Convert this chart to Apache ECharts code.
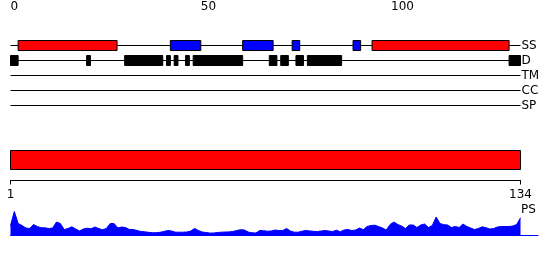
<!DOCTYPE html>
<html><head><meta charset="utf-8">
<script src="https://cdn.jsdelivr.net/npm/echarts@6/dist/echarts.min.js"></script>
<style>html,body{margin:0;padding:0;background:#fff}#c{width:550px;height:260px}</style>
</head><body><div id="c"></div>
<script>
const seqLength = 134;
const trackNames = ['SS', 'D', 'TM', 'CC', 'SP'];
const topTicks = [0, 10, 20, 30, 40, 50, 60, 70, 80, 90, 100, 110, 120, 130];
const topLabels = [0, 50, 100];
const bottomTicks = [1, 134];
const ssHelix = [[2, 28], [95, 131]];
const ssStrand = [[42, 50], [61, 69], [74, 76], [90, 92]];
const disorder = [[0, 2], [20, 21], [30, 40], [41, 42], [43, 44], [46, 47], [48, 61], [68, 70], [71, 73], [75, 77], [78, 87], [131, 134]];
const domainRange = [1, 134];
const psScores = [
  10, 24, 12, 10, 7.5, 7, 11, 9, 7.7, 7.7,
  7, 7.5, 13.5, 12, 6, 7, 8.7, 6.5, 4.5, 6.5,
  7.3, 6.7, 8.5, 7, 5.8, 7, 12, 12, 7.5, 8.5,
  8, 6, 6, 5, 4, 3.7, 3.2, 2.8, 2.8, 3.2,
  4, 5, 4.5, 3.3, 3.3, 3.3, 3.5, 4.5, 7, 5,
  3.5, 3, 2.4, 2.5, 3, 3.3, 3.5, 3.6, 4, 5,
  5.8, 5.5, 3.5, 2.7, 2.5, 5, 4.8, 4.3, 4.5, 5.5,
  5, 5, 7, 4.5, 3.3, 3.3, 4.3, 5, 4.6, 4.2,
  4, 4.5, 5, 4.5, 4, 5.3, 3.8, 5.5, 6, 5,
  5.5, 7.5, 5.8, 9, 10, 10.3, 9, 7.5, 5.5, 11,
  13.5, 11, 9.5, 7, 10.5, 10.5, 8, 10.5, 11.5, 8,
  10, 18.5, 12, 10.8, 10.5, 8, 9, 8, 11.5, 9,
  7.5, 6, 7, 8.7, 7.8, 6.5, 7, 8.5, 9, 9,
  9, 9.5, 11, 17.7
];

const FONT = 'DejaVu Sans';
const LEFT = 10.5, WIDTH = 510;
const pxPerRes = WIDTH / (domainRange[1] - domainRange[0]);
const PS_WIDTH = 527.5;
const psMax = domainRange[0] + PS_WIDTH / pxPerRes;

function boxRender(fill, h) {
  return function (params, api) {
    const t = api.value(2);
    const s = api.coord([api.value(0), t]);
    const e = api.coord([api.value(1), t]);
    return {
      type: 'rect',
      shape: { x: s[0], y: s[1] - h / 2, width: e[0] - s[0], height: h },
      style: { fill: fill, stroke: '#000', lineWidth: 1 }
    };
  };
}
function lineRender(params, api) {
  const t = api.value(2);
  const s = api.coord([api.value(0), t]);
  const e = api.coord([api.value(1), t]);
  return { type: 'line', shape: { x1: s[0], y1: s[1], x2: e[0], y2: e[1] }, style: { stroke: '#000', lineWidth: 1 } };
}

const chart = echarts.init(document.getElementById('c'), null, { renderer: 'canvas' });
const trackIdx = n => trackNames.indexOf(n);
chart.setOption({
  animation: false,
  backgroundColor: '#fff',
  textStyle: { fontFamily: FONT },
  grid: [
    { left: LEFT, width: WIDTH, top: 38, height: 75 },
    { left: LEFT, width: WIDTH, top: 150.5, height: 19 },
    { left: LEFT, width: PS_WIDTH, top: 210.5, height: 25 }
  ],
  xAxis: [
    {
      gridIndex: 0, type: 'value', min: 0, max: seqLength, position: 'top', offset: 22.5,
      axisLine: { onZero: false, lineStyle: { color: '#000', width: 1 } },
      axisTick: { customValues: topTicks, length: 5, lineStyle: { color: '#000' } },
      axisLabel: { customValues: topLabels, align: 'left', margin: 3, color: '#000', fontSize: 12, fontFamily: FONT },
      splitLine: { show: false }
    },
    {
      gridIndex: 1, type: 'value', min: domainRange[0], max: domainRange[1], position: 'bottom', offset: 11,
      axisLine: { onZero: false, lineStyle: { color: '#000', width: 1 } },
      axisTick: { customValues: bottomTicks, length: 4, lineStyle: { color: '#000' } },
      axisLabel: { customValues: bottomTicks, margin: 8, color: '#000', fontSize: 12, fontFamily: FONT },
      splitLine: { show: false }
    },
    {
      gridIndex: 2, type: 'value', min: domainRange[0], max: psMax, position: 'bottom',
      axisLine: { onZero: false, lineStyle: { color: '#0000ff', width: 1 } },
      axisTick: { show: false }, axisLabel: { show: false }, splitLine: { show: false }
    }
  ],
  yAxis: [
    {
      gridIndex: 0, type: 'category', data: trackNames, inverse: true, position: 'right',
      axisLine: { show: false }, axisTick: { show: false }, splitLine: { show: false },
      axisLabel: { interval: 0, margin: 1, color: '#000', fontSize: 12, fontFamily: FONT }
    },
    { gridIndex: 1, type: 'value', min: 0, max: 1, show: false },
    { gridIndex: 2, type: 'value', min: 0, max: 25, show: false }
  ],
  graphic: [
    { type: 'text', left: 521, top: 204, style: { text: 'PS', fill: '#000', font: '12px "DejaVu Sans"' } }
  ],
  series: [
    {
      type: 'custom', xAxisIndex: 0, yAxisIndex: 0, z: 1,
      data: trackNames.map((n, i) => [0, seqLength, i]),
      encode: { x: [0, 1], y: 2 }, renderItem: lineRender
    },
    {
      type: 'custom', xAxisIndex: 0, yAxisIndex: 0, z: 2,
      data: ssHelix.map(r => [r[0], r[1], trackIdx('SS')]),
      encode: { x: [0, 1], y: 2 }, renderItem: boxRender('#ff0000', 10)
    },
    {
      type: 'custom', xAxisIndex: 0, yAxisIndex: 0, z: 2,
      data: ssStrand.map(r => [r[0], r[1], trackIdx('SS')]),
      encode: { x: [0, 1], y: 2 }, renderItem: boxRender('#0000ff', 10)
    },
    {
      type: 'custom', xAxisIndex: 0, yAxisIndex: 0, z: 2,
      data: disorder.map(r => [r[0], r[1], trackIdx('D')]),
      encode: { x: [0, 1], y: 2 }, renderItem: boxRender('#000000', 10)
    },
    {
      type: 'custom', xAxisIndex: 1, yAxisIndex: 1, z: 2,
      data: [[domainRange[0], domainRange[1]]],
      encode: { x: [0, 1] },
      renderItem: function (params, api) {
        const s = api.coord([api.value(0), 1]);
        const e = api.coord([api.value(1), 0]);
        return { type: 'rect', shape: { x: s[0], y: s[1], width: e[0] - s[0], height: e[1] - s[1] },
          style: { fill: '#ff0000', stroke: '#000', lineWidth: 1 } };
      }
    },
    {
      type: 'line', xAxisIndex: 2, yAxisIndex: 2, z: 2,
      data: psScores.map((v, i) => [i + 1, v]),
      showSymbol: false, symbol: 'none',
      lineStyle: { color: '#0000ff', width: 1 },
      areaStyle: { color: '#0000ff', opacity: 1 }
    }
  ]
});
</script>
</body></html>
